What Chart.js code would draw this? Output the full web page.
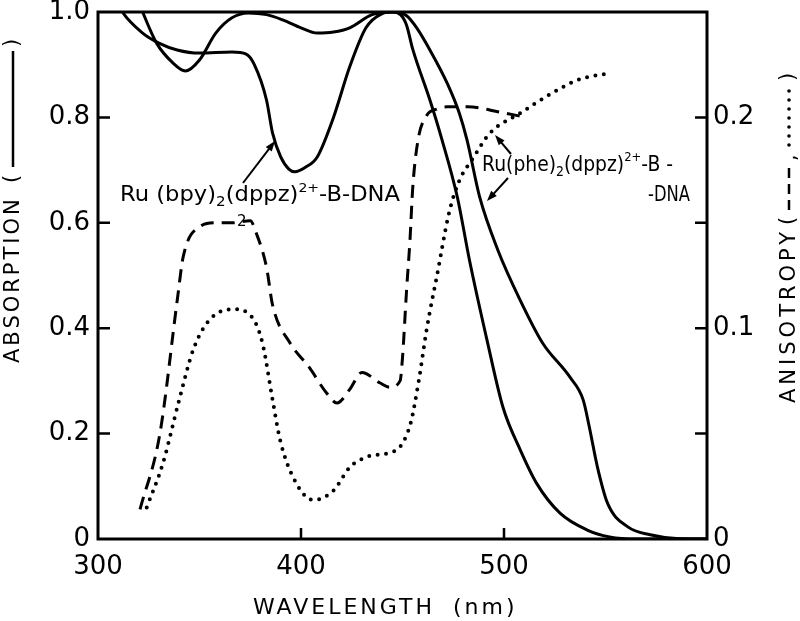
<!DOCTYPE html>
<html>
<head>
<meta charset="utf-8">
<script src="https://cdn.jsdelivr.net/npm/chart.js@4.4.1/dist/chart.umd.min.js"></script>
<style>
  html, body { margin: 0; padding: 0; background: #fff; }
  #wrap { width: 800px; height: 621px; }
</style>
</head>
<body>
<div id="wrap"><canvas id="chart" width="800" height="621"></canvas></div>
<script>
// absorption, left axis (normalised)
const bpyWavelength = [308, 312, 322, 330, 339, 350, 366, 373, 377, 383, 386, 390, 394, 397, 402, 408, 416, 424, 432, 440, 445, 449, 452, 455, 463.5, 469.5, 477, 483, 491.6, 499.5, 508, 516, 527.6, 541, 552, 565, 600];
const bpyAbsorption = [1.03, 1.0, 0.96, 0.941, 0.928, 0.922, 0.924, 0.92, 0.9, 0.833, 0.77, 0.725, 0.702, 0.697, 0.705, 0.725, 0.8, 0.896, 0.97, 0.997, 1.0, 0.995, 0.975, 0.93, 0.833, 0.757, 0.649, 0.529, 0.378, 0.25, 0.169, 0.106, 0.049, 0.017, 0.004, 0.0, 0.0];

const pheWavelength = [318, 322, 329, 337, 343, 350, 358, 366, 374, 383, 391, 400, 408, 416, 424, 435, 445, 452, 457, 463.5, 472, 478, 481.8, 488, 497, 508, 519, 532.5, 539, 542, 546, 551, 561, 572, 585, 600];
const pheAbsorption = [1.04, 1.0, 0.94, 0.903, 0.888, 0.909, 0.96, 0.989, 0.998, 0.995, 0.985, 0.97, 0.96, 0.962, 0.97, 0.995, 1.0, 0.993, 0.97, 0.928, 0.865, 0.808, 0.757, 0.649, 0.548, 0.453, 0.372, 0.307, 0.264, 0.213, 0.137, 0.068, 0.023, 0.008, 0.001, 0.0];

// anisotropy, right axis
const dashWavelength = [320.7, 330.5, 339, 342, 350, 358, 366, 375, 378, 383, 386, 394.6, 404, 412.8, 417.7, 424, 430, 439, 443.8, 448.8, 450, 452, 453.7, 455, 457.6, 462, 467, 472, 482, 498, 511];
const dashAnisotropy = [0.014, 0.05, 0.113, 0.134, 0.148, 0.15, 0.15, 0.151, 0.145, 0.129, 0.111, 0.093, 0.0815, 0.069, 0.0645, 0.071, 0.079, 0.074, 0.072, 0.075, 0.086, 0.118, 0.142, 0.166, 0.189, 0.201, 0.204, 0.205, 0.205, 0.2025, 0.2];

const dotWavelength = [324, 332, 340, 347, 355, 366.5, 376, 381, 386, 389.7, 396, 406, 416, 424, 432.5, 443.8, 449, 454, 458, 462, 467, 473, 478, 485, 493, 508, 521, 537, 552];
const dotAnisotropy = [0.015, 0.036, 0.066, 0.09, 0.104, 0.109, 0.105, 0.093, 0.066, 0.047, 0.0295, 0.0185, 0.023, 0.034, 0.039, 0.041, 0.044, 0.055, 0.075, 0.1, 0.125, 0.155, 0.17, 0.181, 0.1925, 0.202, 0.21, 0.218, 0.221];

const xTicks = [400, 500];
const yTicks = [0.2, 0.4, 0.6, 0.8];
const y2Ticks = [0.05, 0.1, 0.15, 0.2];
const y2Labels = [0, 0.1, 0.2];

const FONT = 'DejaVu Sans';
const INK = '#000';

const toPoints = (xs, ys) => xs.map((x, i) => ({ x, y: ys[i] }));

function richText(ctx, x, y, parts, targetWidth) {
  // parts: [text, size, dy]
  let total = 0;
  parts.forEach(([t, s]) => { ctx.font = `${s}px ${FONT}`; total += ctx.measureText(t).width; });
  const sx = targetWidth ? targetWidth / total : 1;
  ctx.save();
  ctx.translate(x, y);
  ctx.scale(sx, 1);
  let cx = 0;
  parts.forEach(([t, s, dy]) => {
    ctx.font = `${s}px ${FONT}`;
    ctx.fillText(t, cx, dy || 0);
    cx += ctx.measureText(t).width;
  });
  ctx.restore();
}

function arrow(ctx, x1, y1, x2, y2) {
  const a = Math.atan2(y2 - y1, x2 - x1);
  ctx.beginPath();
  ctx.moveTo(x1, y1);
  ctx.lineTo(x2 - 6 * Math.cos(a), y2 - 6 * Math.sin(a));
  ctx.stroke();
  ctx.beginPath();
  ctx.moveTo(x2, y2);
  ctx.lineTo(x2 - 11 * Math.cos(a - 0.35), y2 - 11 * Math.sin(a - 0.35));
  ctx.lineTo(x2 - 11 * Math.cos(a + 0.35), y2 - 11 * Math.sin(a + 0.35));
  ctx.closePath();
  ctx.fill();
}

const framePlugin = {
  id: 'frame',
  beforeDraw(chart) {
    const { ctx } = chart;
    ctx.save();
    ctx.fillStyle = '#fff';
    ctx.fillRect(0, 0, chart.width, chart.height);
    ctx.restore();
  },
  afterDraw(chart) {
    const { ctx, chartArea: area, scales } = chart;
    ctx.save();
    ctx.strokeStyle = INK;
    ctx.fillStyle = INK;
    ctx.lineWidth = 3;
    ctx.strokeRect(area.left, area.top, area.right - area.left, area.bottom - area.top);

    // inward ticks
    ctx.lineWidth = 2.5;
    ctx.beginPath();
    xTicks.forEach(v => {
      const px = scales.x.getPixelForValue(v);
      ctx.moveTo(px, area.bottom);
      ctx.lineTo(px, area.bottom - 11);
    });
    yTicks.forEach(v => {
      const py = scales.y.getPixelForValue(v);
      ctx.moveTo(area.left, py);
      ctx.lineTo(area.left + 12, py);
    });
    y2Ticks.forEach(v => {
      const py = scales.y2.getPixelForValue(v);
      ctx.moveTo(area.right, py);
      ctx.lineTo(area.right - 12, py);
    });
    ctx.stroke();

    // annotations
    ctx.textBaseline = 'alphabetic';
    richText(ctx, 120, 201, [
      ['Ru (bpy)', 21], ['2', 14, 5], ['(dppz)', 21], ['2+', 13, -9], ['-B-DNA', 21]
    ], 280);
    ctx.font = `15px ${FONT}`;
    ctx.fillText('2', 237, 226);
    richText(ctx, 482, 171, [
      ['Ru(phe)', 21], ['2', 14, 5], ['(dppz)', 21], ['2+', 13, -10], ['-B -', 21]
    ], 191);
    richText(ctx, 648, 201, [['-DNA', 21]], 42);

    ctx.lineWidth = 2;
    arrow(ctx, 243, 183, 275, 141);
    arrow(ctx, 511, 154, 495, 135);
    arrow(ctx, 508, 178, 487, 201);

    // left axis title
    ctx.save();
    ctx.translate(13, 363);
    ctx.rotate(-Math.PI / 2);
    ctx.font = `21px ${FONT}`;
    ctx.textBaseline = 'middle';
    ctx.letterSpacing = '3px';
    ctx.fillText('ABSORPTION', 0, 1);
    ctx.letterSpacing = '0px';
    ctx.fillText('(', 180, 0);
    ctx.fillText(')', 316, 0);
    ctx.lineWidth = 2.5;
    ctx.beginPath();
    ctx.moveTo(196, 0);
    ctx.lineTo(312, 0);
    ctx.stroke();
    ctx.restore();

    // right axis title
    ctx.save();
    ctx.translate(789, 403);
    ctx.rotate(-Math.PI / 2);
    ctx.font = `21px ${FONT}`;
    ctx.textBaseline = 'middle';
    ctx.letterSpacing = '4px';
    ctx.fillText('ANISOTROPY', 0, 1);
    ctx.letterSpacing = '0px';
    ctx.fillText('(', 178, 0);
    ctx.fillText(',', 242, 2);
    ctx.fillText(')', 322, 0);
    ctx.lineWidth = 2.5;
    ctx.beginPath();
    [193, 209, 225].forEach(s => { ctx.moveTo(s, 0); ctx.lineTo(s + 10, 0); });
    ctx.stroke();
    for (let i = 0; i < 7; i++) {
      ctx.beginPath();
      ctx.arc(258 + i * 9, 0, 1.8, 0, Math.PI * 2);
      ctx.fill();
    }
    ctx.restore();

    // x axis title
    ctx.font = `22px ${FONT}`;
    ctx.textAlign = 'left';
    ctx.textBaseline = 'middle';
    ctx.letterSpacing = '3px';
    ctx.fillText('WAVELENGTH', 253, 608);
    ctx.fillText('(nm)', 453, 608);
    ctx.restore();
  }
};

const noPad = scale => {
  scale.paddingTop = 0;
  scale.paddingBottom = 0;
  scale.paddingLeft = 0;
  scale.paddingRight = 0;
};

new Chart(document.getElementById('chart'), {
  type: 'line',
  data: {
    datasets: [
      {
        label: 'Ru(bpy)2(dppz)2+-B-DNA absorption',
        data: toPoints(bpyWavelength, bpyAbsorption),
        yAxisID: 'y',
        borderColor: INK,
        borderWidth: 3,
        cubicInterpolationMode: 'monotone',
        pointRadius: 0
      },
      {
        label: 'Ru(phe)2(dppz)2+-B-DNA absorption',
        data: toPoints(pheWavelength, pheAbsorption),
        yAxisID: 'y',
        borderColor: INK,
        borderWidth: 3,
        cubicInterpolationMode: 'monotone',
        pointRadius: 0
      },
      {
        label: 'Ru(bpy)2(dppz)2+-B-DNA anisotropy',
        data: toPoints(dashWavelength, dashAnisotropy),
        yAxisID: 'y2',
        borderColor: INK,
        borderWidth: 3,
        borderDash: [13, 8],
        cubicInterpolationMode: 'monotone',
        pointRadius: 0
      },
      {
        label: 'Ru(phe)2(dppz)2+-B-DNA anisotropy',
        data: toPoints(dotWavelength, dotAnisotropy),
        yAxisID: 'y2',
        borderColor: INK,
        borderWidth: 4,
        borderDash: [0, 8.5],
        borderCapStyle: 'round',
        cubicInterpolationMode: 'monotone',
        pointRadius: 0
      }
    ]
  },
  options: {
    responsive: false,
    animation: false,
    layout: { padding: { top: 12, left: 0, right: 0, bottom: 0 } },
    plugins: {
      legend: { display: false },
      tooltip: { enabled: false }
    },
    scales: {
      x: {
        type: 'linear',
        min: 300,
        max: 600,
        grid: { display: false, drawTicks: false },
        border: { display: false },
        ticks: {
          stepSize: 100,
          color: INK,
          padding: 13,
          font: { family: FONT, size: 26 },
          maxRotation: 0
        },
        afterFit: scale => { scale.height = 82; noPad(scale); }
      },
      y: {
        position: 'left',
        min: 0,
        max: 1,
        grid: { display: false, drawTicks: false },
        border: { display: false },
        ticks: {
          stepSize: 0.2,
          color: INK,
          padding: 8,
          font: { family: FONT, size: 26 },
          callback: v => (v === 0 ? '0' : v.toFixed(1))
        },
        afterFit: scale => { scale.width = 98; noPad(scale); }
      },
      y2: {
        position: 'right',
        min: 0,
        max: 0.25,
        grid: { display: false, drawTicks: false },
        border: { display: false },
        ticks: {
          stepSize: 0.05,
          color: INK,
          padding: 6,
          font: { family: FONT, size: 26 },
          callback: v => {
            const hit = y2Labels.find(l => Math.abs(l - v) < 1e-6);
            if (hit === undefined) return '';
            return hit === 0 ? '0' : hit.toFixed(1);
          }
        },
        afterFit: scale => { scale.width = 93; noPad(scale); }
      }
    }
  },
  plugins: [framePlugin]
});
</script>
</body>
</html>
